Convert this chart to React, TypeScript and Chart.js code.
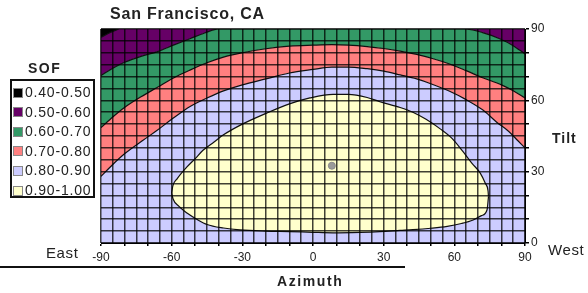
import React, { useEffect, useRef } from "react";
import { Chart, registerables } from "chart.js";

Chart.register(...registerables);

// ---- Data (azimuth, tilt) ----
const azimuthTicks = [-90, -60, -30, 0, 30, 60, 90];
const tiltTicks = [0, 30, 60, 90];

const legendLabels = ["0.40-0.50", "0.50-0.60", "0.60-0.70", "0.70-0.80", "0.80-0.90", "0.90-1.00"];
const legendColors = ["#000000", "#660066", "#339966", "#FF8080", "#CCCCFF", "#FFFFCC"];

// boundary 0.80 / 0.70 (blue below, red above)
const boundary80: [number, number][] = [
  [-90, 28], [-85, 33], [-80, 37.5], [-72, 43.3], [-66, 47.5], [-60, 52], [-52, 57.5],
  [-45, 61], [-38, 64], [-30, 66.5], [-20, 69], [-10, 71.5], [0, 73], [8, 74], [15, 74],
  [23, 73.3], [30, 72.3], [37, 70.7], [44, 69], [50, 67], [58, 63.8], [65, 60.3],
  [72, 56], [78, 50.8], [83, 47], [87, 43], [90, 40],
];
// boundary 0.70 / 0.60 (red below, green above)
const boundary70: [number, number][] = [
  [-90, 48.5], [-85, 53], [-80, 57], [-73, 61.5], [-66, 65.5], [-59, 69.5], [-52, 72.8],
  [-45, 75.8], [-38, 78.2], [-30, 80], [-20, 81.7], [-10, 82.8], [0, 83.2], [8, 83.4],
  [15, 83.2], [23, 82.6], [30, 81.8], [37, 80.7], [44, 79.3], [51, 77.5], [58, 75.3],
  [65, 72.5], [72, 69.5], [80, 66.5], [85, 64], [90, 61],
];
// boundary 0.60 / 0.50 (green below, purple above)
const boundary60: [number, number][] = [
  [-90, 70.5], [-85, 73.5], [-80, 76], [-73, 78.5], [-66, 80.5], [-59, 83.3], [-52, 86],
  [-46, 88.3], [-40, 90], [64, 90], [72, 88.5], [79, 86], [85, 83], [90, 79.5],
];
// top edge of the field
const topEdge: [number, number][] = [[-90, 90], [90, 90]];
// boundary 0.50 / 0.40 (black corner)
const boundary50: [number, number][] = [[-90, 86.5], [-86, 88.5], [-82.5, 90]];
// 0.90 region (closed) lower and upper edges
const yellowLower: [number, number][] = [
  [-60, 21], [-59.4, 18.5], [-57, 15.5], [-53.5, 12.6], [-49, 9.8], [-45, 7.8], [-38, 6.3],
  [-31, 5.5], [-20, 5], [-10, 4.8], [0, 4.5], [8.5, 4.3], [20, 4.5], [28.4, 4.8], [37, 5.3],
  [42.4, 5.6], [50, 6.2], [57, 7], [63, 8.2], [68, 9.7], [71.5, 11.5], [73.9, 14], [74.5, 19.5],
];
const yellowUpper: [number, number][] = [
  [-60, 21], [-59.5, 24], [-57.7, 27], [-53.5, 32], [-50, 35.5], [-46.7, 39], [-42, 42.5],
  [-38, 45.5], [-30, 50], [-20, 54.5], [-10, 58.5], [-1.3, 61], [8.5, 62.5], [15, 62.5],
  [23, 61.2], [28.4, 59.4], [37, 57], [42.4, 55], [48, 52], [54, 48], [59, 44],
  [63.7, 38.4], [67.5, 33.5], [71, 29.4], [73.2, 25], [74.3, 22], [74.5, 19.5],
];
const markerPoint: [number, number][] = [[8, 32.5]];

const pts = (a: [number, number][]) => a.map(([x, y]) => ({ x, y }));

const FONT = "'Liberation Sans', Arial, sans-serif";

export default function App() {
  const ref = useRef<HTMLCanvasElement | null>(null);

  useEffect(() => {
    if (!ref.current) return;
    const base = {
      pointRadius: 0,
      borderColor: "#111",
      borderWidth: 1.2,
      cubicInterpolationMode: "monotone" as const,
      order: 5,
    };
    const gridOpts = (len: number) => ({
      z: 1,
      color: "rgba(0,0,0,0.75)",
      lineWidth: 1.5,
      tickLength: len,
      tickColor: (c: any) => (c.tick && Math.abs(c.tick.value) % 10 === 0 ? "#000" : "rgba(0,0,0,0)"),
    });
    const chart = new Chart(ref.current, {
      type: "line",
      data: {
        datasets: [
          { ...base, data: pts(boundary80), fill: "start", backgroundColor: legendColors[4] },
          { ...base, data: pts(boundary70), fill: "-1", backgroundColor: legendColors[3] },
          { ...base, data: pts(boundary60), fill: "-1", backgroundColor: legendColors[2] },
          { ...base, data: pts(topEdge), fill: "-1", backgroundColor: legendColors[1], borderWidth: 0 },
          { ...base, data: pts(boundary50), fill: "end", backgroundColor: legendColors[0], order: 1 },
          { ...base, data: pts(yellowLower), fill: false, order: 0 },
          { ...base, data: pts(yellowUpper), fill: "-1", backgroundColor: legendColors[5], order: 0 },
          {
            data: pts(markerPoint),
            showLine: false,
            fill: false,
            pointRadius: 3.5,
            pointBackgroundColor: "#9a9a9a",
            pointBorderColor: "#8a8a8a",
            order: -1,
          },
        ],
      },
      options: {
        responsive: false,
        animation: false,
        devicePixelRatio: 1,
        layout: { padding: { left: 101, top: 29, right: 33, bottom: 28 } },
        plugins: { legend: { display: false }, tooltip: { enabled: false }, title: { display: false } },
        scales: {
          x: {
            type: "linear",
            min: -90,
            max: 90,
            afterFit: (s: any) => { s.height = 22; },
            grid: gridOpts(3),
            border: { color: "#000", width: 1, z: 1 },
            ticks: {
              stepSize: 5,
              autoSkip: false,
              maxRotation: 0,
              padding: 4,
              color: "#222",
              font: { family: FONT, size: 12 },
              callback: (v: any) => (azimuthTicks.includes(Number(v)) ? String(v) : ""),
            },
          },
          y: {
            type: "linear",
            position: "right",
            min: 0,
            max: 90,
            afterFit: (s: any) => { s.width = 30; },
            grid: gridOpts(4),
            border: { color: "#000", width: 1, z: 1 },
            ticks: {
              stepSize: 5,
              autoSkip: false,
              padding: 2,
              color: "#222",
              font: { family: FONT, size: 12 },
              callback: (v: any) => (tiltTicks.includes(Number(v)) ? String(v) : ""),
            },
          },
        },
      },
    });
    return () => chart.destroy();
  }, []);

  const txt = (extra: React.CSSProperties): React.CSSProperties => ({
    position: "absolute",
    fontFamily: FONT,
    color: "#222",
    whiteSpace: "nowrap",
    ...extra,
  });

  return (
    <div style={{ position: "fixed", left: 0, top: 0, width: 588, height: 293, background: "#fff", overflow: "hidden" }}>
      <canvas ref={ref} width={588} height={293} style={{ position: "absolute", left: 0, top: 0, width: 588, height: 293 }} />
      <div style={txt({ left: 110, top: 6, fontSize: 16, lineHeight: "16px", fontWeight: "bold", letterSpacing: 0.8 })}>
        San Francisco, CA
      </div>
      <div style={txt({ left: 28, top: 60, fontSize: 14, lineHeight: "16px", fontWeight: "bold", letterSpacing: 1.5 })}>SOF</div>
      <div style={{ position: "absolute", left: 10, top: 79, width: 81, height: 115, border: "2px solid #111" }} />
      {legendLabels.map((l, i) => (
        <React.Fragment key={l}>
          <div
            style={{
              position: "absolute",
              left: 13,
              top: 92 + i * 19.6 - 4.5,
              width: 8,
              height: 8,
              background: legendColors[i],
              border: "0.5px solid #888",
            }}
          />
          <div style={txt({ left: 25, top: 92 + i * 19.6 - 8, fontSize: 14, lineHeight: "16px", letterSpacing: 0.8 })}>{l}</div>
        </React.Fragment>
      ))}
      <div style={txt({ left: 46, top: 245, fontSize: 15, lineHeight: "16px", letterSpacing: 0.6 })}>East</div>
      <div style={txt({ left: 548, top: 242, fontSize: 15, lineHeight: "16px", letterSpacing: 0.6 })}>West</div>
      <div style={txt({ left: 552, top: 130, fontSize: 14, lineHeight: "16px", fontWeight: "bold", letterSpacing: 1 })}>Tilt</div>
      <div style={{ position: "absolute", left: 0, top: 266, width: 405, height: 0, borderTop: "2px solid #111" }} />
      <div style={txt({ left: 277, top: 273, fontSize: 14, lineHeight: "16px", fontWeight: "bold", letterSpacing: 1.6 })}>Azimuth</div>
    </div>
  );
}
